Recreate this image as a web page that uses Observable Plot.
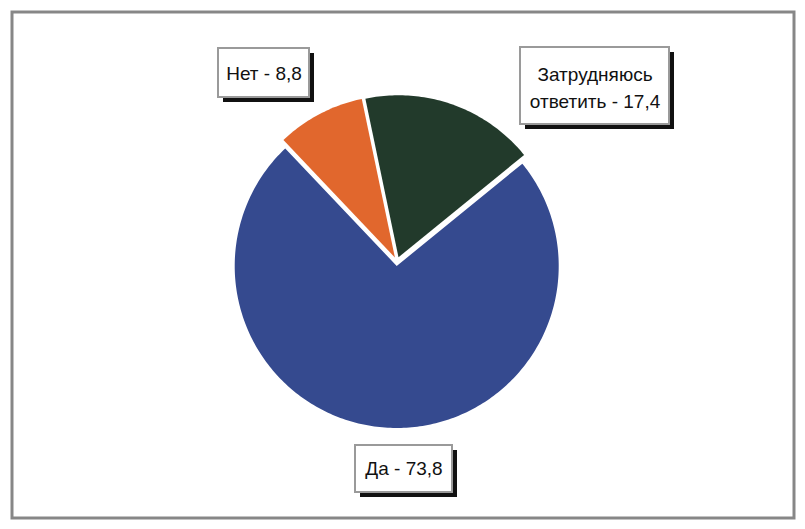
<!DOCTYPE html>
<html>
<head>
<meta charset="utf-8">
<script src="https://cdn.jsdelivr.net/npm/d3@7"></script>
<script src="https://cdn.jsdelivr.net/npm/@observablehq/plot@0.6"></script>
<style>
  html, body { margin: 0; padding: 0; background: #fff; }
  #chart svg { display: block; }
</style>
</head>
<body>
<div id="chart"></div>
<script>
// ---- data ----
const categories = ["Затрудняюсь ответить", "Да", "Нет"];
const values = [17.4, 73.8, 8.8];
const labels = ["Затрудняюсь\nответить - 17,4", "Да - 73,8", "Нет - 8,8"];
const colors = ["#223a2b", "#354a8f", "#e1672d"];

// ---- layout (pixels) ----
const W = 805, H = 529;
const cx = 396.5, cy = 261, R = 162, explode = 4.5;
const startDeg = -11.8;
const boxes = [
  {x1: 520, y1: 47, x2: 669, y2: 124, ty: 85},
  {x1: 355, y1: 445, x2: 452, y2: 492, ty: 466},
  {x1: 218, y1: 48, x2: 309, y2: 97, ty: 71}
];

const pie = d3.pie().sort(null)
  .startAngle(startDeg * Math.PI / 180)
  .endAngle(startDeg * Math.PI / 180 + 2 * Math.PI);
const arcs = pie(values);

function slicePoints(a, i) {
  const mid = (a.startAngle + a.endAngle) / 2;
  const ox = cx + explode * Math.sin(mid);
  const oy = cy - explode * Math.cos(mid);
  const pts = [{x: ox, y: oy}];
  const n = Math.max(8, Math.ceil((a.endAngle - a.startAngle) * 60));
  for (let k = 0; k <= n; k++) {
    const t = a.startAngle + (a.endAngle - a.startAngle) * k / n;
    pts.push({x: ox + R * Math.sin(t), y: oy - R * Math.cos(t)});
  }
  pts.push({x: ox, y: oy});
  return pts;
}

const sliceMarks = arcs.map((a, i) =>
  Plot.line(slicePoints(a, i), {x: "x", y: "y", fill: colors[i], stroke: "none", curve: "linear"})
);

const boxData = boxes.map((b, i) => ({...b, label: labels[i], tx: (b.x1 + b.x2) / 2}));

const chart = Plot.plot({
  width: W,
  height: H,
  margin: 0,
  x: {domain: [0, W], range: [0, W], axis: null},
  y: {domain: [0, H], range: [0, H], axis: null},
  style: {fontFamily: "'Liberation Sans', Arial, sans-serif", background: "#fff"},
  marks: [
    Plot.frame({stroke: "#878787", strokeWidth: 3, inset: 11.5}),
    ...sliceMarks,
    Plot.rect(boxData, {x1: d => d.x1 + 5, x2: d => d.x2 + 5, y1: d => d.y1 + 5, y2: d => d.y2 + 5, fill: "#111"}),
    Plot.rect(boxData, {x1: "x1", x2: "x2", y1: "y1", y2: "y2", fill: "#fff", stroke: "#9a9a9a", strokeWidth: 2}),
    Plot.text(boxData, {x: "tx", y: "ty", text: "label", fontSize: 19, fill: "#111", lineHeight: 1.45, textAnchor: "middle", lineAnchor: "middle"})
  ]
});
document.getElementById("chart").appendChild(chart);
</script>
</body>
</html>
